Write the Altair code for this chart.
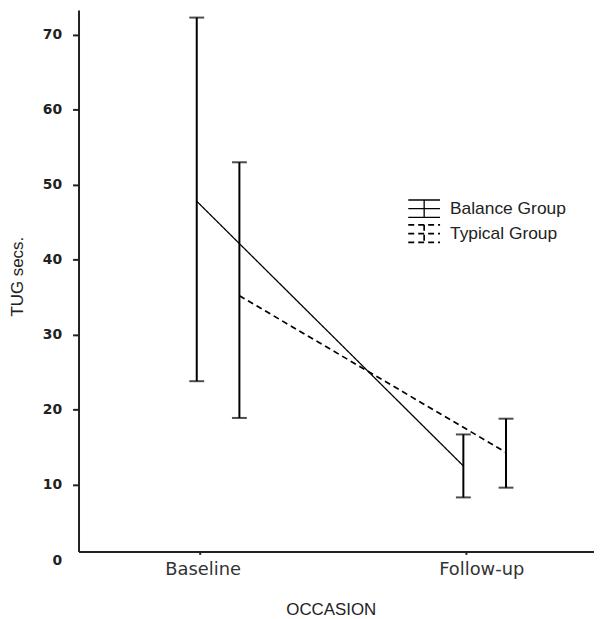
import altair as alt
import pandas as pd

# ---- data ----
occasions = ["Baseline", "Follow-up"]
groups = ["Balance Group", "Typical Group"]
balance_mean = [47.8, 12.5]
balance_low = [23.8, 8.3]
balance_high = [72.3, 16.7]
typical_mean = [35.2, 14.3]
typical_low = [18.9, 9.6]
typical_high = [53.0, 18.8]
y_ticks = [10, 20, 30, 40, 50, 60, 70]
y_floor = 1.1  # where the axis baseline sits; labelled "0" in the original

occ_pos = {occ: i + 1 for i, occ in enumerate(occasions)}
dodge = {"Balance Group": 0.0, "Typical Group": 0.16}

rows = []
for g, m, lo, hi in [
    (groups[0], balance_mean, balance_low, balance_high),
    (groups[1], typical_mean, typical_low, typical_high),
]:
    for i, occ in enumerate(occasions):
        rows.append(dict(group=g, occasion=occ, pos=occ_pos[occ] + dodge[g],
                         mean=m[i], low=lo[i], high=hi[i]))
df = pd.DataFrame(rows)

label_arr = "[" + ",".join("'" + o + "'" for o in occasions) + "]"

x_scale = alt.Scale(domain=[0.5566, 2.490], nice=False, zero=False)
x_axis = alt.Axis(
    values=[1, 2], labelExpr=f"{label_arr}[datum.value - 1]",
    labelOffset={"condition": {"test": "datum.value == 2", "value": 15}, "value": 3},
    title="OCCASION", grid=False, tickSize=3, tickWidth=2, tickColor="#222",
    tickOffset=3,
    domainColor="#222", domainWidth=2,
    labelFont="DejaVu Sans", labelFontSize=18, labelColor="#333", labelPadding=6,
    titleFont="Liberation Sans", titleFontSize=17, titleColor="#222",
    titleFontWeight="normal", titleX=254, titleY=59, titleBaseline="middle",
    titleAlign="center",
)
y_scale = alt.Scale(domain=[y_floor, 73.3], nice=False, zero=False)
y_axis = alt.Axis(
    values=[y_floor] + y_ticks,
    labelExpr=f"datum.value == {y_floor} ? '0' : datum.label",
    labelOffset={"condition": {"test": f"datum.value == {y_floor}", "value": 9}, "value": 0},
    tickOpacity={"condition": {"test": f"datum.value == {y_floor}", "value": 0}, "value": 1},
    title="TUG secs.", grid=False, tickSize=6, tickWidth=2, tickColor="#222",
    domainColor="#222", domainWidth=2,
    labelFont="DejaVu Sans", labelFontSize=14, labelFontWeight="bold",
    labelColor="#222", labelPadding=11,
    titleFont="Liberation Sans", titleFontSize=17, titleColor="#222",
    titleFontWeight="normal", titleAngle=270, titleX=-61, titleY=268,
    titleAlign="center", titleBaseline="middle",
)

def X():
    return alt.X("pos:Q", scale=x_scale, axis=x_axis)

def Y(field):
    return alt.Y(f"{field}:Q", scale=y_scale, axis=y_axis)

base = alt.Chart(df)

lines = base.mark_line(color="black").encode(
    x=X(), y=Y("mean"),
    strokeWidth=alt.StrokeWidth("group:N", scale=alt.Scale(domain=groups, range=[1.3, 1.7]),
                                legend=None),
    strokeDash=alt.StrokeDash(
        "group:N",
        scale=alt.Scale(domain=groups, range=[[1, 0], [6, 4]]),
        legend=alt.Legend(
            title=None, orient="none", legendX=339, legendY=191, padding=0,
            symbolType="M-2,-1.1H2M0,-1.1V1.1M-2,1.1H2M-2,0H2",
            symbolSize=256, symbolStrokeColor="black", symbolStrokeWidth=2,
            symbolFillColor="transparent",
            labelFont="Liberation Sans", labelFontSize=17.5, labelColor="#222",
            labelOffset=17, rowPadding=0,
        ),
    ),
)

rules = base.mark_rule(color="black", strokeWidth=2).encode(
    x=X(), y=Y("low"), y2="high:Q"
)
cap_low = base.mark_tick(color="black", orient="horizontal", size=15, thickness=2).encode(
    x=X(), y=Y("low")
)
cap_high = base.mark_tick(color="black", orient="horizontal", size=15, thickness=2).encode(
    x=X(), y=Y("high")
)

chart = (
    alt.layer(lines, rules, cap_low, cap_high)
    .properties(
        width=519, height=545,
        padding={"left": 71, "top": 0, "right": 0, "bottom": 70},
        autosize=alt.AutoSizeParams(type="none"),
        background="white",
    )
    .configure_view(stroke=None)
)

chart.save("out.html", embed_options={"renderer": "svg", "actions": False})
